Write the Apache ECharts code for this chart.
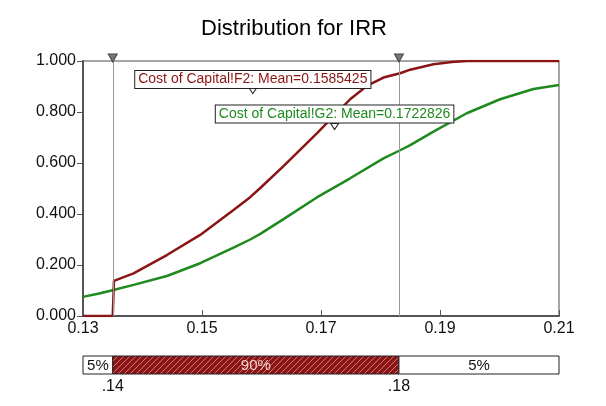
<!DOCTYPE html>
<html>
<head>
<meta charset="utf-8">
<script src="https://cdn.jsdelivr.net/npm/echarts@6/dist/echarts.min.js"></script>
<style>
  html, body { margin: 0; padding: 0; background: #fff; }
  #chart { width: 606px; height: 406px; }
</style>
</head>
<body>
<div id="chart"></div>
<script>
// cumulative distribution: [IRR, cumulative probability]
const irrF2 = [
  [0.13, 0], [0.1350, 0], [0.1352, 0.138], [0.1385, 0.167], [0.1441, 0.239],
  [0.1497, 0.318], [0.1553, 0.416], [0.1581, 0.466], [0.1598, 0.502],
  [0.1637, 0.588], [0.1693, 0.716], [0.1749, 0.850], [0.1777, 0.902],
  [0.1805, 0.935], [0.1833, 0.952], [0.1850, 0.966], [0.1889, 0.987],
  [0.1920, 0.996], [0.1945, 1.0], [0.21, 1.0]
];
const irrG2 = [
  [0.13, 0.075], [0.1329, 0.089], [0.1351, 0.102], [0.1385, 0.122],
  [0.1441, 0.157], [0.1497, 0.207], [0.1553, 0.268], [0.1581, 0.300],
  [0.1598, 0.322], [0.1637, 0.380], [0.1693, 0.465], [0.1749, 0.540],
  [0.1805, 0.618], [0.1833, 0.650], [0.1850, 0.670], [0.1889, 0.723],
  [0.1945, 0.795], [0.2001, 0.850], [0.2057, 0.890], [0.21, 0.906]
];
const seriesNames = ["Cost of Capital!F2", "Cost of Capital!G2"];
const means = [0.1585425, 0.1722826];
// where the boxes and their mean markers sit (y value)
const boxY = [0.927, 0.792];
const markerY = [0.884, 0.743];

// 5% / 90% / 5% band
const bandEdges = [0.13, 0.135, 0.1831, 0.21];
const bandLabels = ["5%", "90%", "5%"];
const pctValues = [0.135, 0.1831];
const pctLabels = [".14", ".18"];

const RED = "#8b1414";
const GREEN = "#1e8a1e";
const FONT = "Liberation Sans, Arial, sans-serif";

// hatch for the 90% band
const hatch = document.createElement("canvas");
hatch.width = 6; hatch.height = 6;
(function () {
  const c = hatch.getContext("2d");
  c.fillStyle = RED;
  c.fillRect(0, 0, 6, 6);
  c.strokeStyle = "rgba(255,200,200,0.55)";
  c.lineWidth = 1;
  c.beginPath();
  c.moveTo(-1, 7); c.lineTo(7, -1);
  c.moveTo(-1, 1); c.lineTo(1, -1);
  c.moveTo(5, 7); c.lineTo(7, 5);
  c.stroke();
})();

const chart = echarts.init(document.getElementById("chart"));

const bandData = bandLabels.map((l, i) => [bandEdges[i], bandEdges[i + 1], i]);

chart.setOption({
  backgroundColor: "#fff",
  animation: false,
  textStyle: { fontFamily: FONT },
  title: {
    text: "Distribution for IRR",
    left: 289,
    top: 13,
    textAlign: "center",
    textStyle: { fontSize: 22, fontWeight: "normal", color: "#000", fontFamily: FONT },
  },
  grid: [
    { left: 83, right: 47, top: 61, bottom: 90, show: true, borderColor: "#888", borderWidth: 1.5 },
    { left: 83, right: 47, top: 356, height: 18 },
  ],
  xAxis: [
    {
      type: "value",
      gridIndex: 0,
      min: 0.13,
      max: 0.21,
      interval: 0.02,
      axisLine: { lineStyle: { color: "#555", width: 2 } },
      axisTick: { inside: true, length: 6, lineStyle: { color: "#555" } },
      splitLine: { show: false },
      axisLabel: {
        color: "#111", fontSize: 16, margin: 5, fontFamily: FONT,
        formatter: (v) => v.toFixed(2),
      },
    },
    {
      type: "value",
      gridIndex: 1,
      min: 0.13,
      max: 0.21,
      show: false,
    },
  ],
  yAxis: [
    {
      type: "value",
      gridIndex: 0,
      min: 0,
      max: 1,
      interval: 0.2,
      axisLine: { show: true, lineStyle: { color: "#555", width: 2 } },
      axisTick: { show: true, length: 6, lineStyle: { color: "#555" } },
      splitLine: { show: false },
      axisLabel: {
        color: "#111", fontSize: 16, margin: 7, fontFamily: FONT,
        formatter: (v) => v.toFixed(3),
      },
    },
    { type: "value", gridIndex: 1, min: 0, max: 1, show: false },
  ],
  series: [
    {
      name: seriesNames[1],
      type: "line",
      data: irrG2,
      showSymbol: false,
      smooth: false,
      lineStyle: { color: GREEN, width: 2.5 },
      z: 2,
    },
    {
      name: seriesNames[0],
      type: "line",
      data: irrF2,
      showSymbol: false,
      smooth: false,
      lineStyle: { color: RED, width: 2.5 },
      z: 3,
    },
    {
      // 5% / 95% cursors
      type: "line",
      data: [],
      z: 1,
      markLine: {
        silent: true,
        symbol: "none",
        label: { show: false },
        lineStyle: { color: "#999", width: 1, type: "solid" },
        data: pctValues.map((v) => [{ coord: [v, 0] }, { coord: [v, 1] }]),
      },
      markPoint: {
        silent: true,
        symbol: "triangle",
        symbolRotate: 180,
        symbolSize: [9, 8],
        symbolOffset: [0, -3],
        itemStyle: { color: "#777", borderColor: "#444", borderWidth: 1 },
        label: { show: false },
        data: pctValues.map((v) => ({ coord: [v, 1] })),
      },
    },
    {
      // mean annotations
      type: "line",
      data: [],
      z: 10,
      markPoint: {
        silent: true,
        data: means.flatMap((m, i) => [
          {
            coord: [m, markerY[i]],
            symbol: "triangle",
            symbolRotate: 180,
            symbolSize: [8, 6],
            itemStyle: { color: "#fff", borderColor: "#222", borderWidth: 1 },
            label: { show: false },
          },
          {
            coord: [m, boxY[i]],
            symbol: "rect",
            symbolSize: 1,
            itemStyle: { color: "rgba(0,0,0,0)" },
            label: {
              show: true,
              position: "inside",
              formatter: seriesNames[i] + ": Mean=" + m,
              color: i === 0 ? RED : GREEN,
              fontSize: 14,
              fontFamily: FONT,
              backgroundColor: "#fff",
              borderColor: "#222",
              borderWidth: 1,
              padding: [2, 3, 1, 3],
            },
          },
        ]),
      },
    },
    {
      type: "custom",
      xAxisIndex: 1,
      yAxisIndex: 1,
      data: bandData,
      encode: { x: [0, 1] },
      renderItem: (params, api) => {
        const p0 = api.coord([api.value(0), 0]);
        const p1 = api.coord([api.value(1), 1]);
        const idx = api.value(2);
        const mid = idx === 1;
        return {
          type: "group",
          children: [
            {
              type: "rect",
              shape: { x: p0[0], y: p1[1], width: p1[0] - p0[0], height: p0[1] - p1[1] },
              style: {
                fill: mid ? { image: hatch, repeat: "repeat" } : "#fff",
                stroke: "#222",
                lineWidth: 1,
              },
            },
            {
              type: "text",
              style: {
                text: bandLabels[idx],
                x: (p0[0] + p1[0]) / 2,
                y: (p0[1] + p1[1]) / 2 + 1,
                align: "center",
                verticalAlign: "middle",
                fill: mid ? "#f3cfcf" : "#111",
                font: "15px " + FONT,
              },
            },
          ],
        };
      },
    },
    {
      type: "custom",
      xAxisIndex: 1,
      yAxisIndex: 1,
      data: pctValues.map((v, i) => [v, i]),
      encode: { x: 0 },
      renderItem: (params, api) => {
        const p = api.coord([api.value(0), 0]);
        return {
          type: "text",
          style: {
            text: pctLabels[api.value(1)],
            x: p[0],
            y: p[1] + 13,
            align: "center",
            verticalAlign: "middle",
            fill: "#111",
            font: "16px " + FONT,
          },
        };
      },
    },
  ],
});
</script>
</body>
</html>
